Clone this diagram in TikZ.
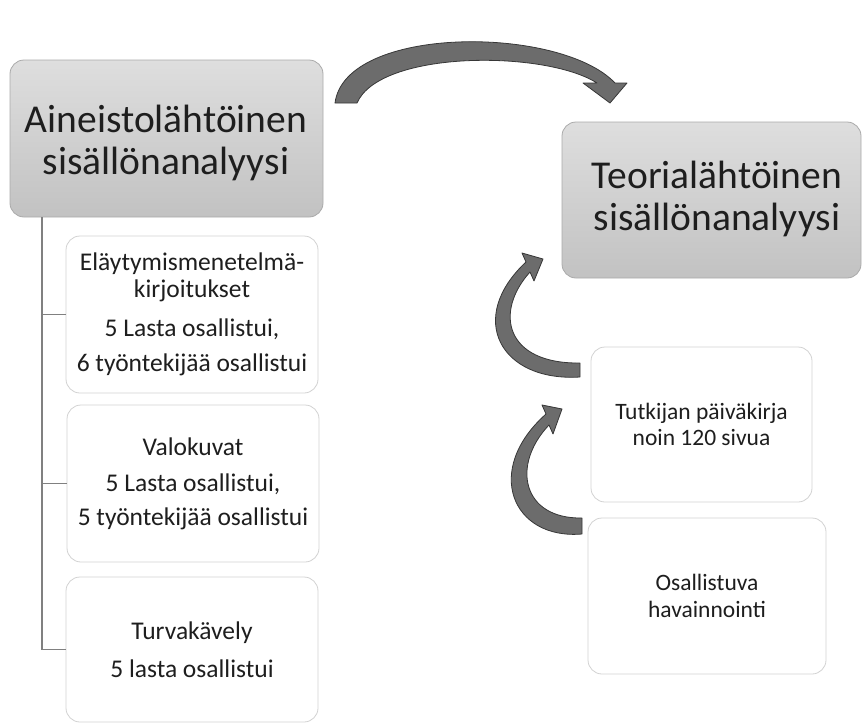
\documentclass[tikz,border=0pt]{standalone}
\usepackage{fontspec}
\setmainfont{Carlito}
\definecolor{boxtop}{RGB}{222,222,222}
\definecolor{boxbot}{RGB}{194,194,194}
\definecolor{boxedge}{RGB}{170,170,170}
\definecolor{whiteedge}{RGB}{210,210,210}
\definecolor{arrowfill}{RGB}{108,108,108}
\definecolor{arrowedge}{RGB}{55,55,55}
\definecolor{treeline}{RGB}{128,128,128}
\definecolor{txt}{RGB}{30,30,30}
\begin{document}
\begin{tikzpicture}[x=1pt,y=-1pt,
  graybox/.style={draw=boxedge, line width=0.8pt, rounded corners=14pt, top color=boxtop, bottom color=boxbot, inner sep=0pt, outer sep=0pt},
  whitebox/.style={draw=whiteedge, line width=0.8pt, fill=white, rounded corners=14pt, inner sep=0pt, outer sep=0pt, align=center, text=txt},
  lefttext/.style={font=\fontsize{25.5}{27}\selectfont},
  righttext/.style={font=\fontsize{23.5}{26}\selectfont},
  bigtext/.style={align=center, text=txt, font=\fontsize{39.5}{42}\selectfont, inner sep=0pt},
  bentarrow/.style={fill=arrowfill, draw=arrowedge, line width=0.8pt, line join=round},
  tree/.style={draw=treeline, line width=1.2pt}
]
\useasboundingbox (0,0) rectangle (863,726);

% gray boxes
\node[graybox, minimum width=313pt, minimum height=157pt] (lbox) at (166.5,138.5) {};
\node[bigtext] (ltext) at (166,143) {Aineistolähtöinen\\sisällönanalyysi};
\node[graybox, minimum width=299pt, minimum height=156pt] (rbox) at (711.5,200) {};
\node[bigtext] (rtext) at (717,199) {Teorialähtöinen\\sisällönanalyysi};

% left white boxes
\node[whitebox, lefttext, minimum width=252pt, minimum height=157pt] (b1) at (192,314.5)
  {Eläytymismenetelmä-\\kirjoitukset\\[12pt]5 Lasta osallistui,\\[8pt]6 työntekijää osallistui};
\node[whitebox, lefttext, minimum width=252pt, minimum height=157pt] (b2) at (193,483.5)
  {Valokuvat\\[9pt]5 Lasta osallistui,\\[7pt]5 työntekijää osallistui};
\node[whitebox, lefttext, minimum width=252pt, minimum height=145pt] (b3) at (192,649.5)
  {Turvakävely\\[11pt]5 lasta osallistui};

% right white boxes
\node[whitebox, righttext, minimum width=221pt, minimum height=155pt] (bA) at (701.5,424.5)
  {Tutkijan päiväkirja\\noin 120 sivua};
\node[whitebox, righttext, minimum width=238pt, minimum height=156pt] (bB) at (707,596)
  {Osallistuva\\[1pt]havainnointi};

% tree connectors
\coordinate (t0) at ([xshift=32pt]lbox.south west);
\draw[tree] (t0) |- (b1.west);
\draw[tree] (t0) |- (b2.west);
\draw[tree] (t0) |- (b3.west);

% top curved arrow
\path[bentarrow] (335,103) .. controls (345,25) and (560,25) .. (615,83)
  -- (627,83) -- (610,103) -- (583,83) -- (597,83)
  .. controls (545,50) and (380,50) .. (357,103) -- cycle;

% right curved arrow 1 (Tutkijan -> Teoria)
\path[bentarrow] (580,377) .. controls (500,382) and (466,318) .. (526,262)
  -- (522,253) -- (543,259) -- (534,281) -- (530,272)
  .. controls (494,312) and (505,364) .. (580,363) -- cycle;

% right curved arrow 2 (Osallistuva -> Tutkijan)
\path[bentarrow] (582,534) .. controls (512,540) and (483,470) .. (546,414)
  -- (542,405) -- (562,409) -- (553,434) -- (549,425)
  .. controls (511,465) and (522,519) .. (582,518) -- cycle;
\end{tikzpicture}
\end{document}
